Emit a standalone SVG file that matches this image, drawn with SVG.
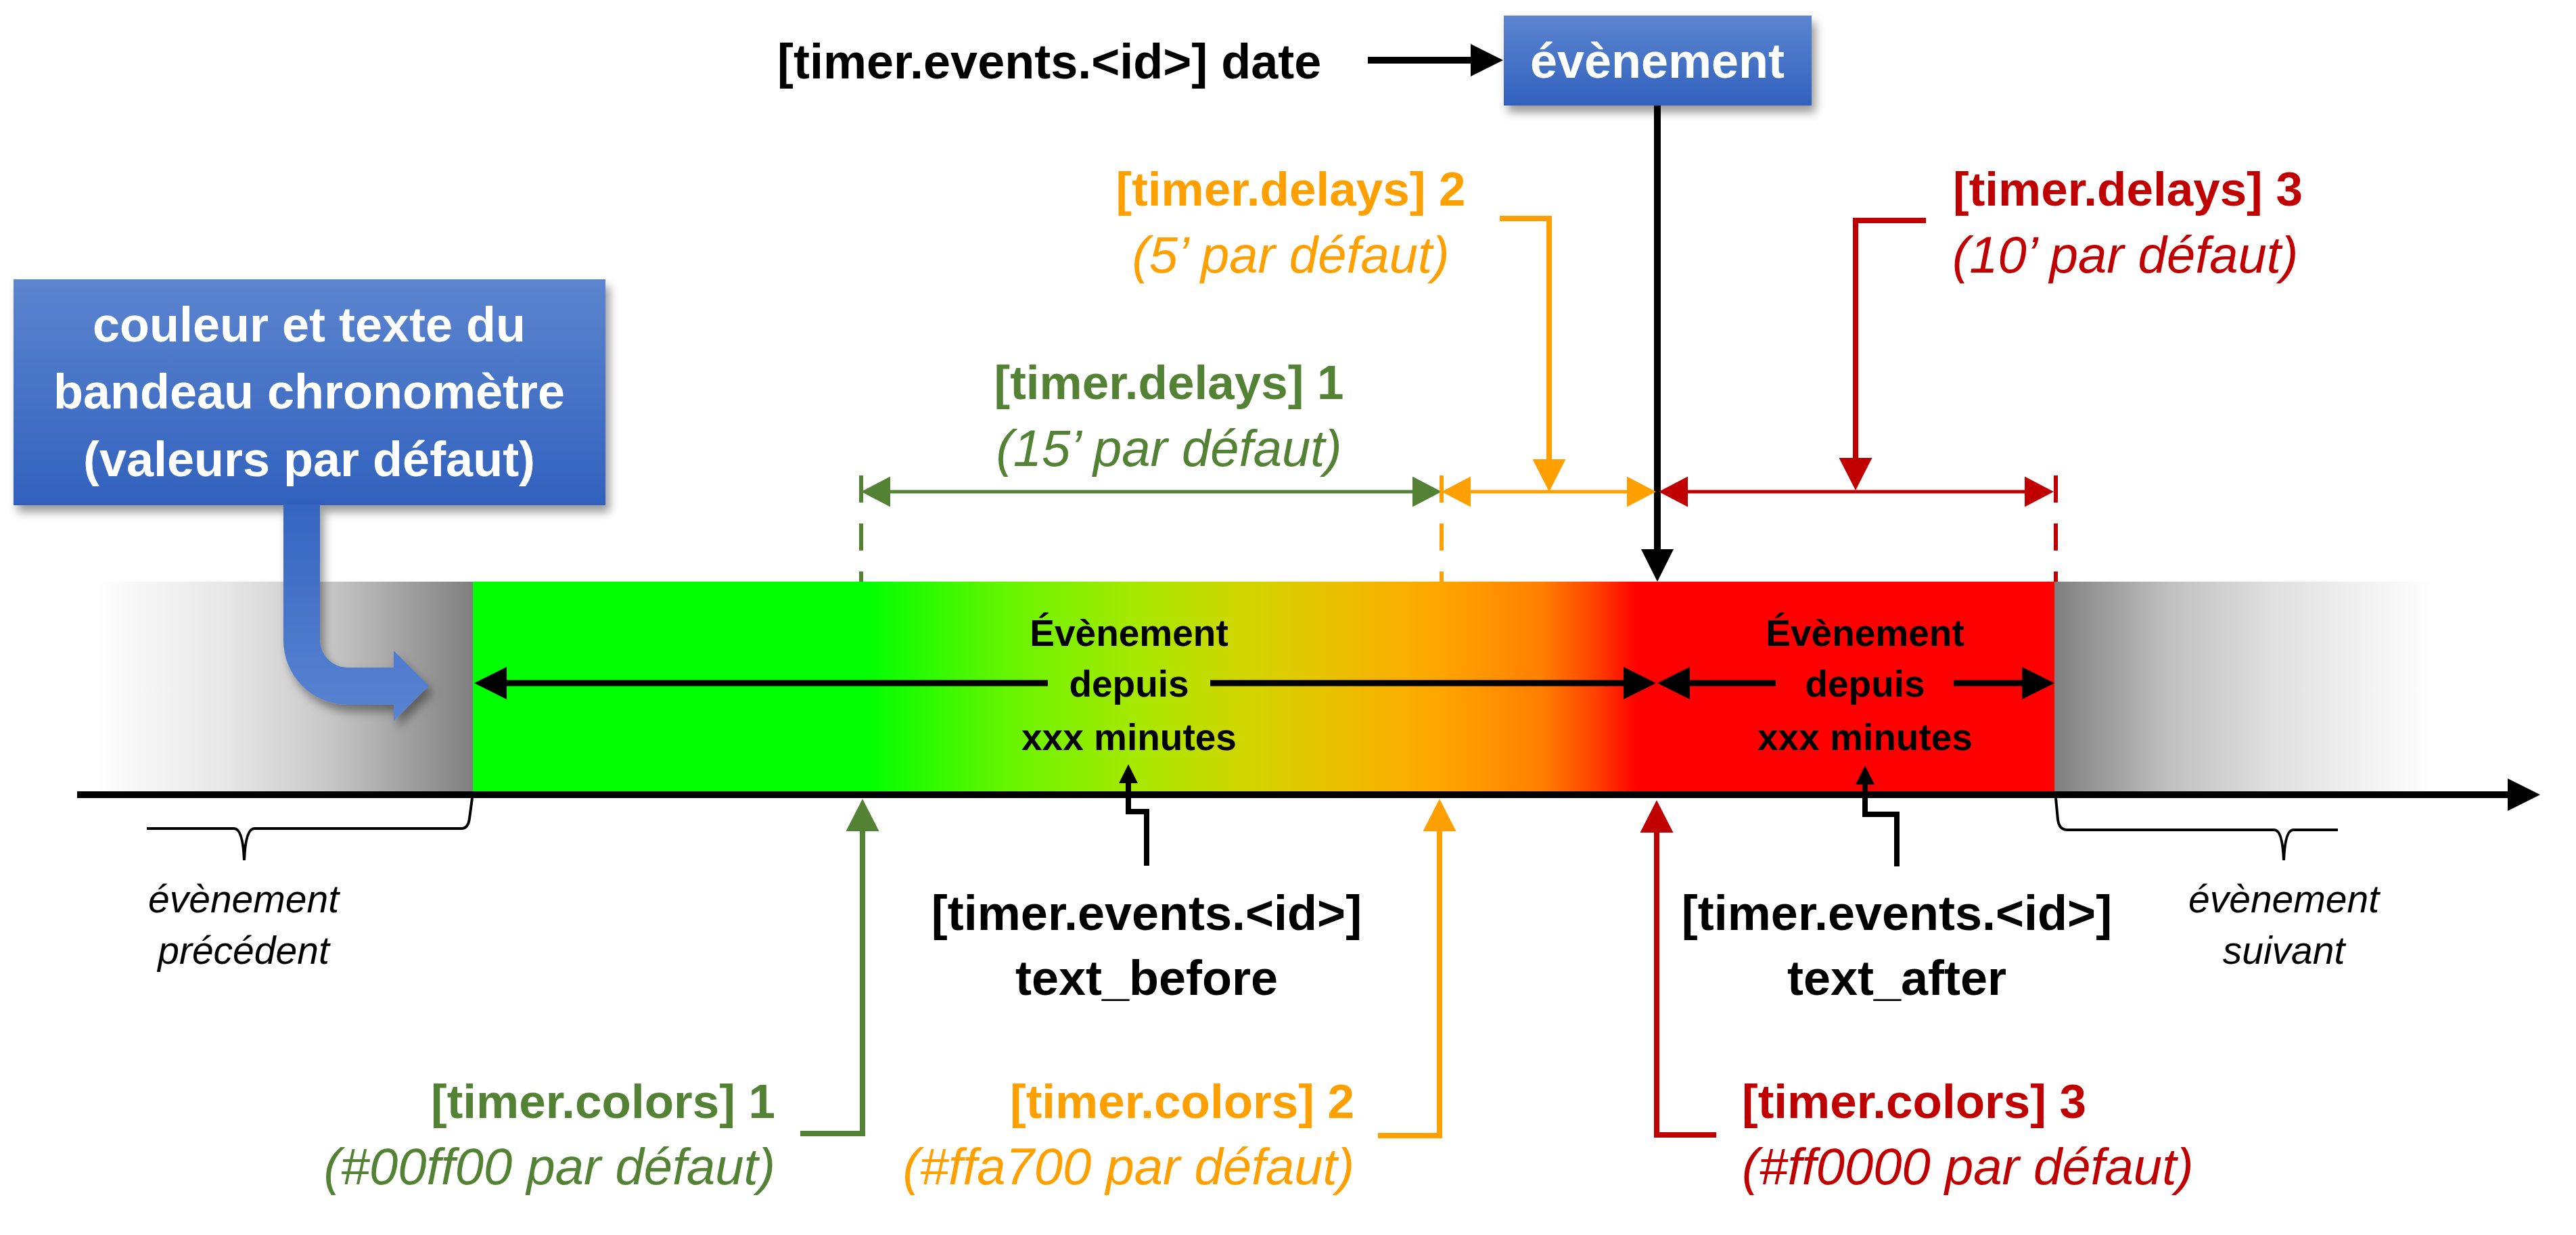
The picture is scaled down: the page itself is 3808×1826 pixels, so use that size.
<svg xmlns="http://www.w3.org/2000/svg" width="3808" height="1826" viewBox="0 0 3808 1826">
<defs>
<style>
text{font-family:"Liberation Sans",Arial,sans-serif}
.lbl{font-size:72px;font-weight:bold;fill:#000}
.cl{font-size:71px;font-weight:bold}
.it{font-size:76px;font-style:italic}
.bar{font-size:55px;font-weight:bold;fill:#000;text-anchor:middle}
.sm{font-size:57px;font-style:italic;fill:#000;text-anchor:middle}
.wt{font-size:72px;font-weight:bold;fill:#fff;text-anchor:middle}
.g{fill:#548235}.o{fill:#FFA000}.r{fill:#C00000}
.mid{text-anchor:middle}.end{text-anchor:end}
.ln{fill:none;stroke-linejoin:miter}
.k{stroke:#000}.sg{stroke:#548235}.so{stroke:#FFA000}.sr{stroke:#C00000}
.dash{stroke-width:6;stroke-dasharray:40 31}
.brace{fill:none;stroke:#000;stroke-width:4}
</style>
<marker id="mk" viewBox="0 0 10 10" refX="0" refY="5" markerWidth="48" markerHeight="48" markerUnits="userSpaceOnUse" orient="auto-start-reverse" preserveAspectRatio="none"><path d="M0,0L10,5L0,10z" fill="#000"/></marker>
<marker id="mks" viewBox="0 0 10 10" refX="0" refY="5" markerWidth="28" markerHeight="28" markerUnits="userSpaceOnUse" orient="auto-start-reverse" preserveAspectRatio="none"><path d="M0,0L10,5L0,10z" fill="#000"/></marker>
<marker id="mg" viewBox="0 0 10 10" refX="0" refY="5" markerWidth="48" markerHeight="49" markerUnits="userSpaceOnUse" orient="auto-start-reverse" preserveAspectRatio="none"><path d="M0,0L10,5L0,10z" fill="#548235"/></marker>
<marker id="mo" viewBox="0 0 10 10" refX="0" refY="5" markerWidth="48" markerHeight="49" markerUnits="userSpaceOnUse" orient="auto-start-reverse" preserveAspectRatio="none"><path d="M0,0L10,5L0,10z" fill="#FFA000"/></marker>
<marker id="mr" viewBox="0 0 10 10" refX="0" refY="5" markerWidth="48" markerHeight="49" markerUnits="userSpaceOnUse" orient="auto-start-reverse" preserveAspectRatio="none"><path d="M0,0L10,5L0,10z" fill="#C00000"/></marker>
<marker id="dg" viewBox="0 0 10 10" refX="0" refY="5" markerWidth="43" markerHeight="45" markerUnits="userSpaceOnUse" orient="auto-start-reverse" preserveAspectRatio="none"><path d="M0,0L10,5L0,10z" fill="#548235"/></marker>
<marker id="do" viewBox="0 0 10 10" refX="0" refY="5" markerWidth="43" markerHeight="45" markerUnits="userSpaceOnUse" orient="auto-start-reverse" preserveAspectRatio="none"><path d="M0,0L10,5L0,10z" fill="#FFA000"/></marker>
<marker id="dr" viewBox="0 0 10 10" refX="0" refY="5" markerWidth="43" markerHeight="45" markerUnits="userSpaceOnUse" orient="auto-start-reverse" preserveAspectRatio="none"><path d="M0,0L10,5L0,10z" fill="#C00000"/></marker>
<linearGradient id="gbar" x1="699" y1="0" x2="3037" y2="0" gradientUnits="userSpaceOnUse">
<stop offset="0" stop-color="#00ff00"/>
<stop offset="0.248" stop-color="#00ff00"/>
<stop offset="0.338" stop-color="#66f500"/>
<stop offset="0.421" stop-color="#a8e800"/>
<stop offset="0.492" stop-color="#d4d400"/>
<stop offset="0.556" stop-color="#eebc00"/>
<stop offset="0.612" stop-color="#ffa500"/>
<stop offset="0.676" stop-color="#ff7f00"/>
<stop offset="0.710" stop-color="#ff4000"/>
<stop offset="0.736" stop-color="#ff0000"/>
<stop offset="1" stop-color="#ff0000"/>
</linearGradient>
<linearGradient id="gl" x1="140" y1="0" x2="699" y2="0" gradientUnits="userSpaceOnUse"><stop offset="0" stop-color="#ffffff"/><stop offset="0.097" stop-color="#f8f8f8"/><stop offset="0.356" stop-color="#e6e6e6"/><stop offset="0.617" stop-color="#c8c8c8"/><stop offset="1" stop-color="#7f7f7f"/></linearGradient>
<linearGradient id="gr" x1="3037" y1="0" x2="3600" y2="0" gradientUnits="userSpaceOnUse"><stop offset="0" stop-color="#7f7f7f"/><stop offset="0.30" stop-color="#c0c0c0"/><stop offset="0.575" stop-color="#e0e0e0"/><stop offset="0.849" stop-color="#f4f4f4"/><stop offset="1" stop-color="#ffffff"/></linearGradient>
<linearGradient id="gblue" x1="0" y1="0" x2="0" y2="1"><stop offset="0" stop-color="#5c85cf"/><stop offset="1" stop-color="#3161bd"/></linearGradient>
<linearGradient id="garrow" x1="0" y1="0" x2="0" y2="1"><stop offset="0" stop-color="#3565c0"/><stop offset="1" stop-color="#5a84d2"/></linearGradient>
<filter id="sh" x="-10%" y="-10%" width="130%" height="140%"><feDropShadow dx="6" dy="10" stdDeviation="7" flood-color="#000" flood-opacity="0.4"/></filter>
</defs>
<rect x="0" y="0" width="3808" height="1826" fill="#fff"/>

<g id="timeline-bar">
<rect x="120" y="860" width="579" height="312" fill="url(#gl)"/>
<rect x="3037" y="860" width="563" height="312" fill="url(#gr)"/>
<rect x="699" y="860" width="2338" height="312" fill="url(#gbar)"/>
</g>

<g id="note-defaults">
<rect x="20" y="413" width="875" height="334" fill="url(#gblue)" filter="url(#sh)"/>
<text class="wt" x="457" y="505">couleur et texte du</text>
<text class="wt" x="457" y="604">bandeau chronomètre</text>
<text class="wt" x="457" y="704">(valeurs par défaut)</text>
</g>

<g id="event-box">
<rect x="2223" y="23" width="455" height="133" fill="url(#gblue)" filter="url(#sh)"/>
<text class="wt" x="2450" y="115">évènement</text>
</g>

<g id="label-date"><text class="lbl" x="1149" y="116">[timer.events.&lt;id&gt;] date</text></g>

<g id="label-delay1"><text class="cl g mid" x="1728" y="590">[timer.delays] 1</text><text class="it g mid" x="1728" y="689">(15’ par défaut)</text></g>
<g id="label-delay2"><text class="cl o mid" x="1908" y="304">[timer.delays] 2</text><text class="it o mid" x="1908" y="403">(5’ par défaut)</text></g>
<g id="label-delay3"><text class="cl r" x="2887" y="304">[timer.delays] 3</text><text class="it r" x="2886" y="403">(10’ par défaut)</text></g>

<g id="bar-text-before"><text class="bar" x="1669" y="955">Évènement</text><text class="bar" x="1669" y="1030">depuis</text><text class="bar" x="1669" y="1109">xxx minutes</text></g>
<g id="bar-text-after"><text class="bar" x="2757" y="955">Évènement</text><text class="bar" x="2757" y="1030">depuis</text><text class="bar" x="2757" y="1109">xxx minutes</text></g>

<g id="label-text-before"><text class="lbl mid" x="1695" y="1375">[timer.events.&lt;id&gt;]</text><text class="lbl mid" x="1695" y="1471">text_before</text></g>
<g id="label-text-after"><text class="lbl mid" x="2804" y="1375">[timer.events.&lt;id&gt;]</text><text class="lbl mid" x="2804" y="1471">text_after</text></g>

<g id="label-color1"><text class="cl g end" x="1146" y="1653">[timer.colors] 1</text><text class="it g end" x="1146" y="1751">(#00ff00 par défaut)</text></g>
<g id="label-color2"><text class="cl o end" x="2002" y="1653">[timer.colors] 2</text><text class="it o end" x="2002" y="1751">(#ffa700 par défaut)</text></g>
<g id="label-color3"><text class="cl r" x="2575" y="1653">[timer.colors] 3</text><text class="it r" x="2575" y="1751">(#ff0000 par défaut)</text></g>

<g id="label-prev"><text class="sm" x="360" y="1349">évènement</text><text class="sm" x="360" y="1425">précédent</text></g>
<g id="label-next"><text class="sm" x="3376" y="1349">évènement</text><text class="sm" x="3376" y="1425">suivant</text></g>

<g id="connectors">
<path d="M419,746 V947 A95,95 0 0 0 514,1042 H582 V1066 L634,1014 L582,962 V987 H514 A41,41 0 0 1 473,946 V746 Z" fill="url(#garrow)" filter="url(#sh)"/>
<line class="ln k" x1="114" y1="1175" x2="3707" y2="1175" stroke-width="10" marker-end="url(#mk)"/>
<line class="ln k" x1="2022" y1="89" x2="2174" y2="89" stroke-width="10" marker-end="url(#mk)"/>
<line class="ln k" x1="2450" y1="156" x2="2450" y2="812" stroke-width="10" marker-end="url(#mk)"/>
<path class="ln so" d="M2217,323 H2290 V679" stroke-width="8" marker-end="url(#mo)"/>
<path class="ln sr" d="M2847,326 H2743 V677" stroke-width="8" marker-end="url(#mr)"/>
<line class="ln sg" x1="1316" y1="727" x2="2088" y2="727" stroke-width="5" marker-start="url(#dg)" marker-end="url(#dg)"/>
<line class="ln so" x1="2174" y1="727" x2="2405" y2="727" stroke-width="5" marker-start="url(#do)" marker-end="url(#do)"/>
<line class="ln sr" x1="2495" y1="727" x2="2993" y2="727" stroke-width="5" marker-start="url(#dr)" marker-end="url(#dr)"/>
<line class="ln sg dash" x1="1273" y1="703" x2="1273" y2="860"/>
<line class="ln so dash" x1="2131" y1="703" x2="2131" y2="860"/>
<line class="ln sr dash" x1="3039" y1="703" x2="3039" y2="860"/>
<line class="ln k" x1="1549" y1="1010" x2="749" y2="1010" stroke-width="9" marker-end="url(#mk)"/>
<line class="ln k" x1="1789" y1="1010" x2="2400" y2="1010" stroke-width="9" marker-end="url(#mk)"/>
<line class="ln k" x1="2625" y1="1010" x2="2498" y2="1010" stroke-width="9" marker-end="url(#mk)"/>
<line class="ln k" x1="2888" y1="1010" x2="2989" y2="1010" stroke-width="9" marker-end="url(#mk)"/>
<path class="ln k" d="M1695,1280 V1200 H1668 V1158" stroke-width="8" marker-end="url(#mks)"/>
<path class="ln k" d="M2804,1281 V1204 H2757 V1160" stroke-width="8" marker-end="url(#mks)"/>
<path class="ln sg" d="M1183,1676 H1275 V1229" stroke-width="8" marker-end="url(#mg)"/>
<path class="ln so" d="M2037,1679 H2128 V1229" stroke-width="8" marker-end="url(#mo)"/>
<path class="ln sr" d="M2537,1678 H2449 V1231" stroke-width="8" marker-end="url(#mr)"/>
<path class="brace" d="M217,1225 H346 Q359,1225 361,1272 Q363,1225 376,1225 H682 Q692,1225 694,1210 L698,1180"/>
<path class="brace" d="M3039,1180 L3042,1212 Q3044,1227 3056,1227 H3362 Q3374,1227 3376,1272 Q3378,1227 3390,1227 H3456"/>
</g>
</svg>
